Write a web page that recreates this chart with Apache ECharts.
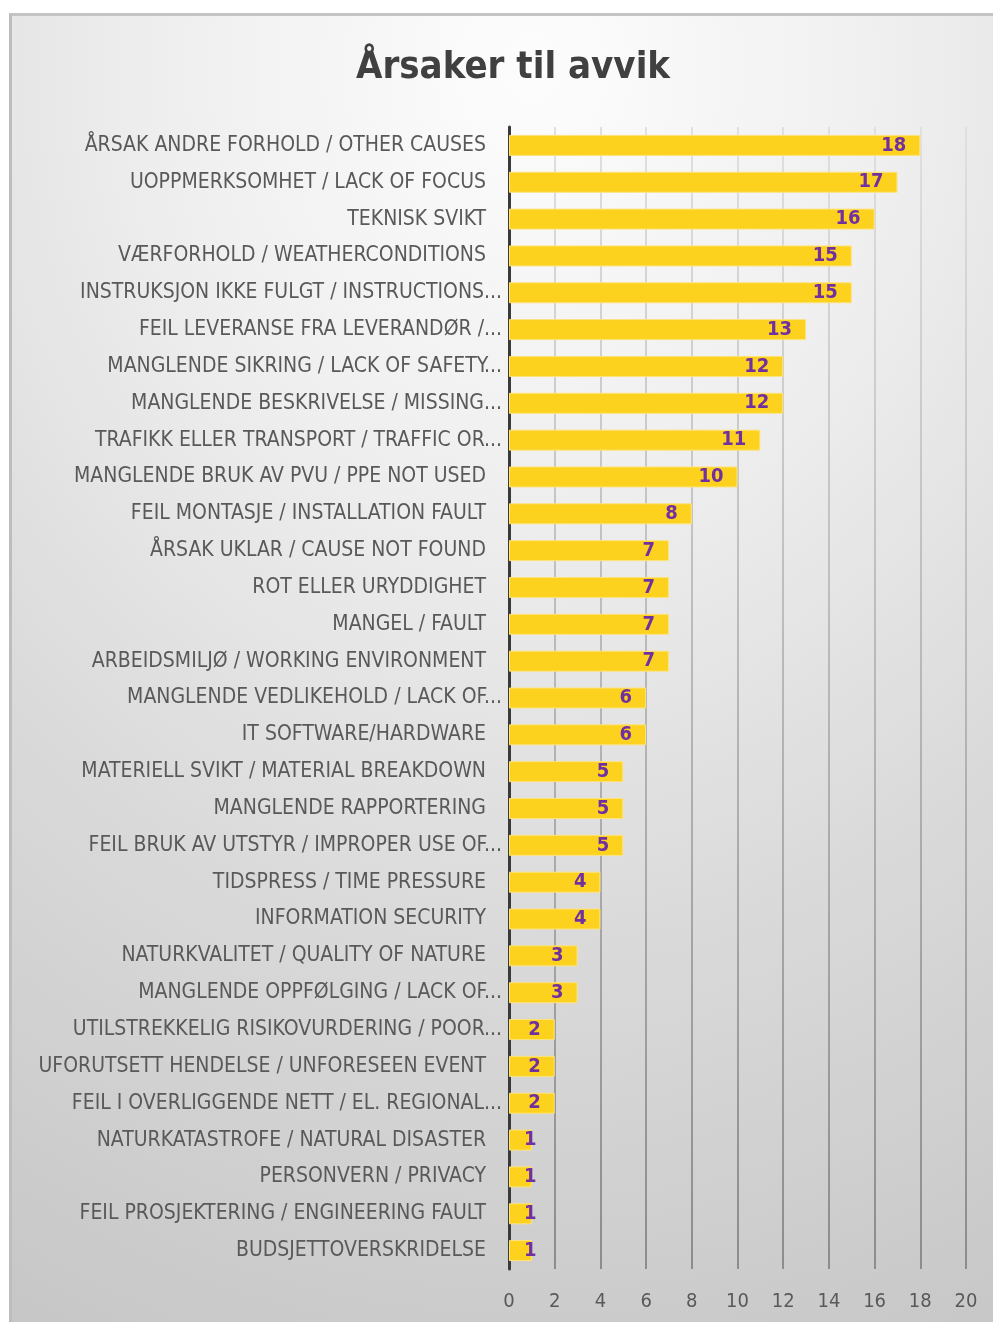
<!DOCTYPE html>
<html>
<head>
<meta charset="utf-8">
<script src="https://cdn.jsdelivr.net/npm/echarts@6/dist/echarts.min.js"></script>
<style>
  html, body { margin: 0; padding: 0; background: #ffffff; }
  body { width: 993px; height: 1322px; position: relative; overflow: hidden; }
  #frame {
    position: absolute; left: 9px; top: 13px; width: 1000px; height: 1330px;
    border-left: 3px solid #bdbdbd; border-top: 3px solid #c4c4c4;
    background: radial-gradient(ellipse 120% 105% at 52% 4%, #fdfdfd 0%, #efefef 30%, #dadada 62%, #c6c6c6 100%);
  }
  #chart { position: absolute; left: 0; top: 0; width: 993px; height: 1322px; }
</style>
</head>
<body>
<div id="frame"></div>
<div id="chart"></div>
<script>
// Causes of deviations, listed from most to least frequent
const categories = [
  'ÅRSAK ANDRE FORHOLD / OTHER CAUSES',
  'UOPPMERKSOMHET / LACK OF FOCUS',
  'TEKNISK SVIKT',
  'VÆRFORHOLD / WEATHERCONDITIONS',
  'INSTRUKSJON IKKE FULGT / INSTRUCTIONS...',
  'FEIL LEVERANSE FRA LEVERANDØR /...',
  'MANGLENDE SIKRING / LACK OF SAFETY...',
  'MANGLENDE BESKRIVELSE / MISSING...',
  'TRAFIKK ELLER TRANSPORT / TRAFFIC OR...',
  'MANGLENDE BRUK AV PVU / PPE NOT USED',
  'FEIL MONTASJE / INSTALLATION FAULT',
  'ÅRSAK UKLAR / CAUSE NOT FOUND',
  'ROT ELLER URYDDIGHET',
  'MANGEL / FAULT',
  'ARBEIDSMILJØ / WORKING ENVIRONMENT',
  'MANGLENDE VEDLIKEHOLD / LACK OF...',
  'IT SOFTWARE/HARDWARE',
  'MATERIELL SVIKT / MATERIAL BREAKDOWN',
  'MANGLENDE RAPPORTERING',
  'FEIL BRUK AV UTSTYR / IMPROPER USE OF...',
  'TIDSPRESS / TIME PRESSURE',
  'INFORMATION SECURITY',
  'NATURKVALITET / QUALITY OF NATURE',
  'MANGLENDE OPPFØLGING / LACK OF...',
  'UTILSTREKKELIG RISIKOVURDERING / POOR...',
  'UFORUTSETT HENDELSE / UNFORESEEN EVENT',
  'FEIL I OVERLIGGENDE NETT / EL. REGIONAL...',
  'NATURKATASTROFE / NATURAL DISASTER',
  'PERSONVERN / PRIVACY',
  'FEIL PROSJEKTERING / ENGINEERING FAULT',
  'BUDSJETTOVERSKRIDELSE'
];

const counts = [18, 17, 16, 15, 15, 13, 12, 12, 11, 10, 8, 7, 7, 7, 7, 6, 6, 5, 5, 5, 4, 4, 3, 3, 2, 2, 2, 1, 1, 1, 1];

const valueTicks = { min: 0, max: 20, interval: 2 };

const TEXT_FONT = '"Liberation Sans Narrow", "DejaVu Sans Condensed", "Open Sans", sans-serif';
const LABEL_COLOR = '#595959';

// Bars too short for an inside-end label keep the label near the start
const barData = counts.map(v => ({
  value: v,
  label: v < 2 ? { position: 'insideLeft', distance: 15 } : undefined
}));

const chart = echarts.init(document.getElementById('chart'), null, { renderer: 'canvas' });

chart.setOption({
  backgroundColor: 'transparent',
  animation: false,
  title: {
    text: 'Årsaker til avvik',
    left: 508,
    textAlign: 'center',
    top: 44,
    textStyle: {
      fontFamily: TEXT_FONT,
      fontWeight: 'bold',
      fontSize: 38,
      color: '#404040'
    }
  },
  grid: { left: 509, right: 27, top: 127, bottom: 53, containLabel: false },
  xAxis: {
    type: 'value',
    min: valueTicks.min,
    max: valueTicks.max,
    interval: valueTicks.interval,
    axisLine: { show: false },
    axisTick: { show: false },
    axisLabel: {
      margin: 23,
      fontFamily: TEXT_FONT,
      fontSize: 20,
      color: LABEL_COLOR
    },
    splitLine: {
      show: true,
      lineStyle: {
        width: 2,
        color: new echarts.graphic.LinearGradient(0, 0, 0, 1, [
          { offset: 0, color: '#e0e0e0' },
          { offset: 0.5, color: '#b6b6b6' },
          { offset: 1, color: '#8c8c8c' }
        ])
      }
    }
  },
  yAxis: {
    type: 'category',
    inverse: true,
    data: categories,
    axisLine: { show: true, lineStyle: { color: '#3a3a3a', width: 3 } },
    axisTick: { show: false },
    axisLabel: {
      margin: 7,
      interval: 0,
      formatter: v => (v.endsWith('...') ? '{t|' + v + '}' : '{n|' + v + '}'),
      rich: {
        t: { fontFamily: TEXT_FONT, fontSize: 21, color: LABEL_COLOR },
        n: { fontFamily: TEXT_FONT, fontSize: 21, color: LABEL_COLOR, padding: [0, 16, 0, 0] }
      }
    }
  },
  series: [{
    type: 'bar',
    data: barData,
    barWidth: 21,
    itemStyle: {
      color: '#fcd21e',
      borderColor: '#fde37e',
      borderWidth: 1
    },
    label: {
      show: true,
      position: 'insideRight',
      distance: 14,
      fontFamily: TEXT_FONT,
      fontWeight: 'bold',
      fontSize: 20,
      color: '#7030a0'
    },
    z: 3
  }]
});
</script>
</body>
</html>
